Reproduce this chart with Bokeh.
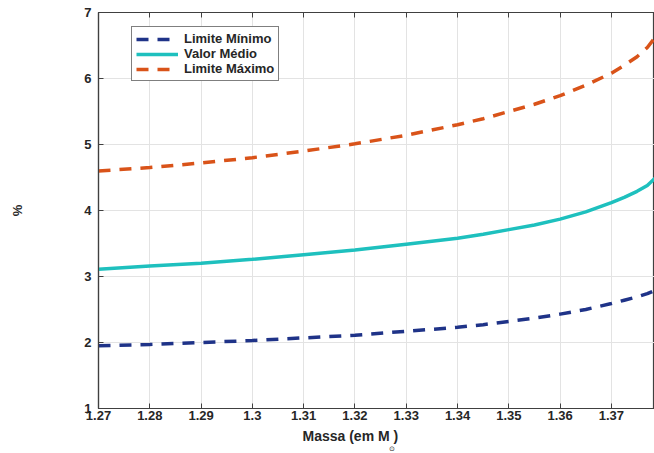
from bokeh.plotting import figure
from bokeh.models import Range1d, LinearAxis, Legend, LegendItem, Title, FixedTicker
from bokeh.embed import file_html
from bokeh.resources import INLINE

massa = [1.27, 1.28, 1.29, 1.30, 1.31, 1.32, 1.33, 1.34, 1.345, 1.35, 1.355, 1.36, 1.365,
         1.37, 1.3725, 1.375, 1.377, 1.3785]
lim_min = [1.95, 1.97, 2.00, 2.03, 2.07, 2.11, 2.17, 2.23, 2.27, 2.32, 2.37, 2.43, 2.50,
           2.59, 2.64, 2.69, 2.74, 2.79]
val_med = [3.11, 3.16, 3.20, 3.26, 3.33, 3.40, 3.49, 3.58, 3.64, 3.71, 3.78, 3.87, 3.98,
           4.12, 4.20, 4.29, 4.38, 4.49]
lim_max = [4.60, 4.65, 4.72, 4.80, 4.90, 5.01, 5.14, 5.30, 5.39, 5.50, 5.61, 5.74, 5.90,
           6.08, 6.20, 6.33, 6.47, 6.62]
x_ticks = [1.27, 1.28, 1.29, 1.30, 1.31, 1.32, 1.33, 1.34, 1.35, 1.36, 1.37]
x_tick_labels = ["1.27", "1.28", "1.29", "1.3", "1.31", "1.32", "1.33", "1.34", "1.35", "1.36", "1.37"]
y_ticks = [1, 2, 3, 4, 5, 6, 7]

FONT = "Liberation Sans"
TXT = "#262626"
AX = "#404040"

p = figure(width=654, height=453, output_backend="svg", toolbar_location=None,
           x_range=Range1d(1.27, 1.3784), y_range=Range1d(1, 7),
           min_border_left=98, min_border_right=0, min_border_top=12, min_border_bottom=45)
p.outline_line_color = AX
p.outline_line_width = 1.2

for ax in [p.xaxis[0], p.yaxis[0]]:
    ax.major_tick_in = 5
    ax.major_tick_out = 0
    ax.minor_tick_line_color = None
    ax.axis_line_color = AX
    ax.axis_line_width = 1.2
    ax.major_tick_line_color = AX
    ax.major_label_text_font = FONT
    ax.major_label_text_font_style = "bold"
    ax.major_label_text_font_size = "13px"
    ax.major_label_text_color = TXT
    ax.axis_label_text_font = FONT
    ax.axis_label_text_font_style = "bold"
    ax.axis_label_text_font_size = "13px"
    ax.axis_label_text_color = TXT

p.xaxis[0].ticker = FixedTicker(ticks=x_ticks)
p.xaxis[0].major_label_overrides = {t: l for t, l in zip(x_ticks, x_tick_labels)}
p.yaxis[0].ticker = FixedTicker(ticks=y_ticks)
p.xaxis[0].major_label_standoff = 2
p.yaxis[0].axis_label = "%"
p.yaxis[0].axis_label_standoff = 56
p.yaxis[0].major_label_standoff = 7

top = LinearAxis(ticker=FixedTicker(ticks=x_ticks), major_tick_in=5, major_tick_out=0,
                 minor_tick_line_color=None, axis_line_color=AX, major_tick_line_color=AX,
                 major_label_text_color=None, major_label_text_font_size="1px",
                 major_label_standoff=0)
p.add_layout(top, "above")

p.grid.grid_line_color = "#e3e3e3"
p.grid.grid_line_width = 1
p.xgrid.ticker = FixedTicker(ticks=x_ticks)
p.ygrid.ticker = FixedTicker(ticks=y_ticks)

r1 = p.line(massa, lim_min, line_color="#1f3388", line_width=3.5, line_dash="12 9")
r2 = p.line(massa, val_med, line_color="#1ec0be", line_width=3.5)
r3 = p.line(massa, lim_max, line_color="#d95319", line_width=3.5, line_dash="12 9")

legend = Legend(items=[LegendItem(label="Limite Mínimo", renderers=[r1]),
                       LegendItem(label="Valor Médio", renderers=[r2]),
                       LegendItem(label="Limite Máximo", renderers=[r3])],
                location=(33, 327))
legend.border_line_color = "black"
legend.border_line_width = 1
legend.background_fill_alpha = 1
legend.label_text_font = FONT
legend.label_text_font_style = "bold"
legend.label_text_font_size = "13px"
legend.label_text_color = TXT
legend.glyph_width = 42
legend.glyph_height = 14
legend.label_height = 15
legend.spacing = 0
legend.padding = 4
legend.margin = 0
legend.label_standoff = 6
p.add_layout(legend, "center")

xlab = Title(text="Massa (em M  )", align="left", offset=204, standoff=6,
             text_font=FONT, text_font_style="bold", text_font_size="14px", text_color=TXT)
p.add_layout(xlab, "below")
sun = Title(text="⊙", align="left", offset=290, standoff=-10,
            text_font=FONT, text_font_style="normal", text_font_size="7px", text_color=TXT)
p.add_layout(sun, "below")

open("out.html", "w").write(file_html(p, INLINE))
